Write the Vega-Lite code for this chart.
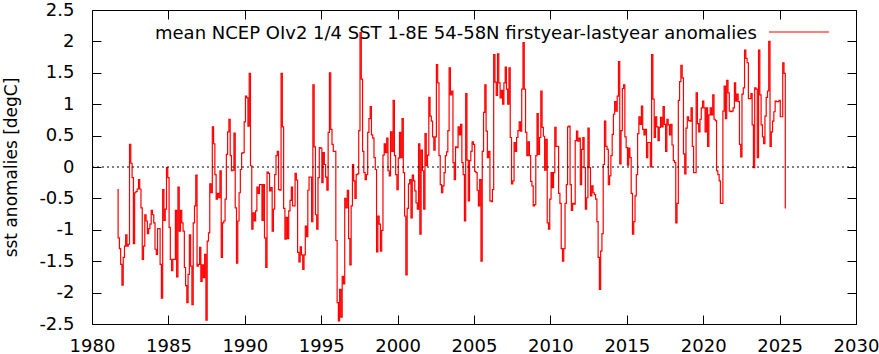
{
  "$schema": "https://vega.github.io/schema/vega-lite/v6.json",
  "width": 764,
  "height": 314,
  "autosize": {"type": "none"},
  "padding": {"left": 92, "top": 10, "right": 23, "bottom": 30},
  "background": "white",
  "config": {
    "font": "DejaVu Sans",
    "view": {"stroke": "black", "strokeWidth": 1},
    "axis": {"labelColor": "black", "tickColor": "black", "titleColor": "black", "grid": false, "domain": false, "labelFontSize": 18, "titleFontSize": 17, "titleFontWeight": "normal", "tickSize": -9, "labelFlush": false, "labelOverlap": false}
  },
  "datasets": {
    "sst": [
      {"d":"1981-09","v":-0.36},{"d":"1981-10","v":-1.13},{"d":"1981-11","v":-1.30},{"d":"1981-12","v":-1.55},
      {"d":"1982-01","v":-1.88},{"d":"1982-02","v":-1.44},{"d":"1982-03","v":-1.26},{"d":"1982-04","v":-1.08},{"d":"1982-05","v":-1.26},{"d":"1982-06","v":-1.23},{"d":"1982-07","v":0.36},{"d":"1982-08","v":0.06},{"d":"1982-09","v":-0.17},{"d":"1982-10","v":-1.22},{"d":"1982-11","v":-0.41},{"d":"1982-12","v":-0.39},
      {"d":"1983-01","v":-0.35},{"d":"1983-02","v":-0.20},{"d":"1983-03","v":-0.35},{"d":"1983-04","v":-0.65},{"d":"1983-05","v":-1.47},{"d":"1983-06","v":-1.26},{"d":"1983-07","v":-0.76},{"d":"1983-08","v":-0.86},{"d":"1983-09","v":-1.06},{"d":"1983-10","v":-0.98},{"d":"1983-11","v":-0.91},{"d":"1983-12","v":-0.69},
      {"d":"1984-01","v":-0.76},{"d":"1984-02","v":-0.89},{"d":"1984-03","v":-1.31},{"d":"1984-04","v":-1.39},{"d":"1984-05","v":-0.98},{"d":"1984-06","v":-0.98},{"d":"1984-07","v":-1.55},{"d":"1984-08","v":-2.09},{"d":"1984-09","v":-0.36},{"d":"1984-10","v":-0.85},{"d":"1984-11","v":-0.67},{"d":"1984-12","v":-0.01},
      {"d":"1985-01","v":-0.17},{"d":"1985-02","v":-0.96},{"d":"1985-03","v":-1.47},{"d":"1985-04","v":-1.65},{"d":"1985-05","v":-1.47},{"d":"1985-06","v":-1.47},{"d":"1985-07","v":-0.69},{"d":"1985-08","v":-1.75},{"d":"1985-09","v":-0.32},{"d":"1985-10","v":-1.02},{"d":"1985-11","v":-0.69},{"d":"1985-12","v":-0.89},
      {"d":"1986-01","v":-1.02},{"d":"1986-02","v":-1.60},{"d":"1986-03","v":-1.89},{"d":"1986-04","v":-2.16},{"d":"1986-05","v":-1.71},{"d":"1986-06","v":-1.08},{"d":"1986-07","v":-1.58},{"d":"1986-08","v":-2.19},{"d":"1986-09","v":-0.89},{"d":"1986-10","v":-0.62},{"d":"1986-11","v":-0.13},{"d":"1986-12","v":-1.58},
      {"d":"1987-01","v":-1.55},{"d":"1987-02","v":-1.28},{"d":"1987-03","v":-1.82},{"d":"1987-04","v":-1.56},{"d":"1987-05","v":-1.76},{"d":"1987-06","v":-1.39},{"d":"1987-07","v":-2.44},{"d":"1987-08","v":-1.18},{"d":"1987-09","v":-1.05},{"d":"1987-10","v":-0.27},{"d":"1987-11","v":-0.41},{"d":"1987-12","v":0.64},
      {"d":"1988-01","v":0.37},{"d":"1988-02","v":-0.12},{"d":"1988-03","v":-0.51},{"d":"1988-04","v":-0.42},{"d":"1988-05","v":-0.49},{"d":"1988-06","v":-0.06},{"d":"1988-07","v":-1.44},{"d":"1988-08","v":-0.89},{"d":"1988-09","v":-0.86},{"d":"1988-10","v":-0.51},{"d":"1988-11","v":0.20},{"d":"1988-12","v":0.56},
      {"d":"1989-01","v":0.76},{"d":"1989-02","v":0.18},{"d":"1989-03","v":-0.06},{"d":"1989-04","v":-0.05},{"d":"1989-05","v":0.54},{"d":"1989-06","v":-0.65},{"d":"1989-07","v":-1.53},{"d":"1989-08","v":-0.86},{"d":"1989-09","v":-0.41},{"d":"1989-10","v":-0.04},{"d":"1989-11","v":0.22},{"d":"1989-12","v":0.23},
      {"d":"1990-01","v":0.72},{"d":"1990-02","v":1.13},{"d":"1990-03","v":1.10},{"d":"1990-04","v":0.65},{"d":"1990-05","v":1.49},{"d":"1990-06","v":0.02},{"d":"1990-07","v":-0.99},{"d":"1990-08","v":-0.73},{"d":"1990-09","v":-0.86},{"d":"1990-10","v":-0.70},{"d":"1990-11","v":-0.32},{"d":"1990-12","v":-0.42},
      {"d":"1991-01","v":-0.28},{"d":"1991-02","v":-0.28},{"d":"1991-03","v":-0.85},{"d":"1991-04","v":-0.28},{"d":"1991-05","v":-1.13},{"d":"1991-06","v":-1.60},{"d":"1991-07","v":-0.08},{"d":"1991-08","v":-0.10},{"d":"1991-09","v":-0.38},{"d":"1991-10","v":-0.33},{"d":"1991-11","v":-1.02},{"d":"1991-12","v":-0.67},
      {"d":"1992-01","v":-0.12},{"d":"1992-02","v":0.18},{"d":"1992-03","v":0.25},{"d":"1992-04","v":-0.36},{"d":"1992-05","v":-0.37},{"d":"1992-06","v":1.49},{"d":"1992-07","v":0.64},{"d":"1992-08","v":-0.66},{"d":"1992-09","v":-1.15},{"d":"1992-10","v":-0.80},{"d":"1992-11","v":-1.14},{"d":"1992-12","v":-0.70},
      {"d":"1993-01","v":-0.53},{"d":"1993-02","v":-0.32},{"d":"1993-03","v":-0.62},{"d":"1993-04","v":-0.62},{"d":"1993-05","v":-0.10},{"d":"1993-06","v":-0.21},{"d":"1993-07","v":-1.36},{"d":"1993-08","v":-1.51},{"d":"1993-09","v":-1.27},{"d":"1993-10","v":-1.40},{"d":"1993-11","v":-1.63},{"d":"1993-12","v":-1.40},
      {"d":"1994-01","v":-0.94},{"d":"1994-02","v":-1.11},{"d":"1994-03","v":-0.37},{"d":"1994-04","v":-0.16},{"d":"1994-05","v":-0.16},{"d":"1994-06","v":-0.87},{"d":"1994-07","v":1.31},{"d":"1994-08","v":0.32},{"d":"1994-09","v":-0.76},{"d":"1994-10","v":-0.99},{"d":"1994-11","v":-0.17},{"d":"1994-12","v":0.31},
      {"d":"1995-01","v":0.30},{"d":"1995-02","v":-0.25},{"d":"1995-03","v":0.23},{"d":"1995-04","v":0.04},{"d":"1995-05","v":-0.16},{"d":"1995-06","v":-0.37},{"d":"1995-07","v":0.55},{"d":"1995-08","v":1.50},{"d":"1995-09","v":0.60},{"d":"1995-10","v":0.36},{"d":"1995-11","v":0.25},{"d":"1995-12","v":0.25},
      {"d":"1996-01","v":-1.17},{"d":"1996-02","v":-2.16},{"d":"1996-03","v":-2.45},{"d":"1996-04","v":-1.95},{"d":"1996-05","v":-2.39},{"d":"1996-06","v":-1.74},{"d":"1996-07","v":-1.86},{"d":"1996-08","v":-0.50},{"d":"1996-09","v":-0.65},{"d":"1996-10","v":-0.37},{"d":"1996-11","v":-1.14},{"d":"1996-12","v":-1.56},
      {"d":"1997-01","v":-0.62},{"d":"1997-02","v":0.04},{"d":"1997-03","v":-0.22},{"d":"1997-04","v":-0.50},{"d":"1997-05","v":-0.12},{"d":"1997-06","v":-0.11},{"d":"1997-07","v":0.58},{"d":"1997-08","v":2.14},{"d":"1997-09","v":1.40},{"d":"1997-10","v":0.25},{"d":"1997-11","v":-0.09},{"d":"1997-12","v":-0.20},
      {"d":"1998-01","v":-0.12},{"d":"1998-02","v":0.55},{"d":"1998-03","v":0.77},{"d":"1998-04","v":0.96},{"d":"1998-05","v":0.51},{"d":"1998-06","v":0.46},{"d":"1998-07","v":0.15},{"d":"1998-08","v":-0.04},{"d":"1998-09","v":-1.35},{"d":"1998-10","v":-0.78},{"d":"1998-11","v":-0.91},{"d":"1998-12","v":-1.34},
      {"d":"1999-01","v":-1.01},{"d":"1999-02","v":0.19},{"d":"1999-03","v":0.37},{"d":"1999-04","v":0.23},{"d":"1999-05","v":0.46},{"d":"1999-06","v":-0.06},{"d":"1999-07","v":-0.14},{"d":"1999-08","v":0.56},{"d":"1999-09","v":0.25},{"d":"1999-10","v":1.06},{"d":"1999-11","v":0.18},{"d":"1999-12","v":-0.12},
      {"d":"2000-01","v":-0.36},{"d":"2000-02","v":0.14},{"d":"2000-03","v":0.55},{"d":"2000-04","v":0.15},{"d":"2000-05","v":0.77},{"d":"2000-06","v":-0.09},{"d":"2000-07","v":-0.78},{"d":"2000-08","v":-1.72},{"d":"2000-09","v":-0.66},{"d":"2000-10","v":-0.27},{"d":"2000-11","v":-0.20},{"d":"2000-12","v":-0.81},
      {"d":"2001-01","v":-0.13},{"d":"2001-02","v":-0.22},{"d":"2001-03","v":-0.38},{"d":"2001-04","v":-0.57},{"d":"2001-05","v":-0.67},{"d":"2001-06","v":0.37},{"d":"2001-07","v":-1.07},{"d":"2001-08","v":0.27},{"d":"2001-09","v":-0.06},{"d":"2001-10","v":-0.67},{"d":"2001-11","v":0.53},{"d":"2001-12","v":0.02},
      {"d":"2002-01","v":0.19},{"d":"2002-02","v":1.11},{"d":"2002-03","v":0.81},{"d":"2002-04","v":0.73},{"d":"2002-05","v":0.48},{"d":"2002-06","v":0.27},{"d":"2002-07","v":0.48},{"d":"2002-08","v":1.63},{"d":"2002-09","v":1.34},{"d":"2002-10","v":0.18},{"d":"2002-11","v":-0.28},{"d":"2002-12","v":-0.41},
      {"d":"2003-01","v":-0.30},{"d":"2003-02","v":-0.09},{"d":"2003-03","v":0.18},{"d":"2003-04","v":0.24},{"d":"2003-05","v":0.58},{"d":"2003-06","v":1.58},{"d":"2003-07","v":1.15},{"d":"2003-08","v":1.21},{"d":"2003-09","v":0.07},{"d":"2003-10","v":-0.20},{"d":"2003-11","v":0.32},{"d":"2003-12","v":0.31},
      {"d":"2004-01","v":0.64},{"d":"2004-02","v":0.51},{"d":"2004-03","v":0.68},{"d":"2004-04","v":0.07},{"d":"2004-05","v":-0.12},{"d":"2004-06","v":-0.86},{"d":"2004-07","v":1.17},{"d":"2004-08","v":0.11},{"d":"2004-09","v":-0.54},{"d":"2004-10","v":0.10},{"d":"2004-11","v":0.25},{"d":"2004-12","v":0.40},
      {"d":"2005-01","v":0.36},{"d":"2005-02","v":-0.07},{"d":"2005-03","v":-0.09},{"d":"2005-04","v":-0.37},{"d":"2005-05","v":-0.62},{"d":"2005-06","v":-0.20},{"d":"2005-07","v":-1.50},{"d":"2005-08","v":0.25},{"d":"2005-09","v":0.87},{"d":"2005-10","v":1.31},{"d":"2005-11","v":0.57},{"d":"2005-12","v":0.15},
      {"d":"2006-01","v":0.25},{"d":"2006-02","v":-0.54},{"d":"2006-03","v":-0.55},{"d":"2006-04","v":-0.36},{"d":"2006-05","v":1.79},{"d":"2006-06","v":1.35},{"d":"2006-07","v":1.14},{"d":"2006-08","v":1.80},{"d":"2006-09","v":1.34},{"d":"2006-10","v":1.10},{"d":"2006-11","v":1.22},{"d":"2006-12","v":1.00},
      {"d":"2007-01","v":1.34},{"d":"2007-02","v":1.59},{"d":"2007-03","v":1.24},{"d":"2007-04","v":1.00},{"d":"2007-05","v":1.58},{"d":"2007-06","v":0.47},{"d":"2007-07","v":-0.27},{"d":"2007-08","v":-0.22},{"d":"2007-09","v":0.39},{"d":"2007-10","v":0.25},{"d":"2007-11","v":0.47},{"d":"2007-12","v":0.58},
      {"d":"2008-01","v":0.72},{"d":"2008-02","v":0.57},{"d":"2008-03","v":1.24},{"d":"2008-04","v":1.98},{"d":"2008-05","v":1.24},{"d":"2008-06","v":0.55},{"d":"2008-07","v":0.18},{"d":"2008-08","v":0.40},{"d":"2008-09","v":0.18},{"d":"2008-10","v":-0.23},{"d":"2008-11","v":-0.30},{"d":"2008-12","v":-0.62},
      {"d":"2009-01","v":-0.60},{"d":"2009-02","v":0.18},{"d":"2009-03","v":0.85},{"d":"2009-04","v":0.20},{"d":"2009-05","v":0.47},{"d":"2009-06","v":1.21},{"d":"2009-07","v":0.63},{"d":"2009-08","v":0.49},{"d":"2009-09","v":-0.05},{"d":"2009-10","v":0.44},{"d":"2009-11","v":-0.89},{"d":"2009-12","v":-0.99},
      {"d":"2010-01","v":-0.51},{"d":"2010-02","v":-0.09},{"d":"2010-03","v":-0.33},{"d":"2010-04","v":-0.09},{"d":"2010-05","v":0.63},{"d":"2010-06","v":0.33},{"d":"2010-07","v":0.33},{"d":"2010-08","v":-0.42},{"d":"2010-09","v":-0.58},{"d":"2010-10","v":-1.30},{"d":"2010-11","v":-1.50},{"d":"2010-12","v":-1.30},
      {"d":"2011-01","v":-0.58},{"d":"2011-02","v":-0.28},{"d":"2011-03","v":0.64},{"d":"2011-04","v":0.65},{"d":"2011-05","v":-0.28},{"d":"2011-06","v":-0.69},{"d":"2011-07","v":-0.58},{"d":"2011-08","v":-0.59},{"d":"2011-09","v":0.42},{"d":"2011-10","v":0.57},{"d":"2011-11","v":0.41},{"d":"2011-12","v":0.46},
      {"d":"2012-01","v":-0.28},{"d":"2012-02","v":0.28},{"d":"2012-03","v":0.47},{"d":"2012-04","v":-0.01},{"d":"2012-05","v":-0.67},{"d":"2012-06","v":-0.49},{"d":"2012-07","v":0.62},{"d":"2012-08","v":-0.01},{"d":"2012-09","v":-0.46},{"d":"2012-10","v":-0.30},{"d":"2012-11","v":-0.41},{"d":"2012-12","v":-0.44},
      {"d":"2013-01","v":-0.51},{"d":"2013-02","v":-0.87},{"d":"2013-03","v":-1.44},{"d":"2013-04","v":-1.95},{"d":"2013-05","v":-1.34},{"d":"2013-06","v":-1.06},{"d":"2013-07","v":0.04},{"d":"2013-08","v":0.73},{"d":"2013-09","v":0.33},{"d":"2013-10","v":0.28},{"d":"2013-11","v":-0.28},{"d":"2013-12","v":-0.14},
      {"d":"2014-01","v":0.18},{"d":"2014-02","v":0.52},{"d":"2014-03","v":0.84},{"d":"2014-04","v":1.04},{"d":"2014-05","v":0.89},{"d":"2014-06","v":1.13},{"d":"2014-07","v":1.68},{"d":"2014-08","v":0.05},{"d":"2014-09","v":0.58},{"d":"2014-10","v":1.25},{"d":"2014-11","v":1.31},{"d":"2014-12","v":0.48},
      {"d":"2015-01","v":0.31},{"d":"2015-02","v":0.03},{"d":"2015-03","v":0.30},{"d":"2015-04","v":0.15},{"d":"2015-05","v":-0.42},{"d":"2015-06","v":-1.07},{"d":"2015-07","v":-0.87},{"d":"2015-08","v":-0.46},{"d":"2015-09","v":-0.12},{"d":"2015-10","v":0.53},{"d":"2015-11","v":0.80},{"d":"2015-12","v":0.68},
      {"d":"2016-01","v":0.97},{"d":"2016-02","v":0.60},{"d":"2016-03","v":0.51},{"d":"2016-04","v":0.60},{"d":"2016-05","v":0.15},{"d":"2016-06","v":0.39},{"d":"2016-07","v":0.39},{"d":"2016-08","v":0.00},{"d":"2016-09","v":1.79},{"d":"2016-10","v":1.08},{"d":"2016-11","v":0.47},{"d":"2016-12","v":0.80},
      {"d":"2017-01","v":0.64},{"d":"2017-02","v":0.42},{"d":"2017-03","v":0.63},{"d":"2017-04","v":0.79},{"d":"2017-05","v":0.64},{"d":"2017-06","v":0.96},{"d":"2017-07","v":0.68},{"d":"2017-08","v":0.25},{"d":"2017-09","v":0.76},{"d":"2017-10","v":0.67},{"d":"2017-11","v":0.51},{"d":"2017-12","v":0.68},
      {"d":"2018-01","v":0.35},{"d":"2018-02","v":0.10},{"d":"2018-03","v":0.07},{"d":"2018-04","v":-0.89},{"d":"2018-05","v":-0.58},{"d":"2018-06","v":1.06},{"d":"2018-07","v":1.36},{"d":"2018-08","v":1.62},{"d":"2018-09","v":1.42},{"d":"2018-10","v":0.21},{"d":"2018-11","v":-0.11},{"d":"2018-12","v":0.62},
      {"d":"2019-01","v":0.80},{"d":"2019-02","v":0.74},{"d":"2019-03","v":0.73},{"d":"2019-04","v":0.94},{"d":"2019-05","v":0.33},{"d":"2019-06","v":-0.09},{"d":"2019-07","v":-0.09},{"d":"2019-08","v":1.18},{"d":"2019-09","v":0.69},{"d":"2019-10","v":0.56},{"d":"2019-11","v":0.76},{"d":"2019-12","v":0.94},
      {"d":"2020-01","v":1.05},{"d":"2020-02","v":0.94},{"d":"2020-03","v":0.56},{"d":"2020-04","v":0.94},{"d":"2020-05","v":0.33},{"d":"2020-06","v":0.83},{"d":"2020-07","v":0.94},{"d":"2020-08","v":0.83},{"d":"2020-09","v":1.15},{"d":"2020-10","v":0.76},{"d":"2020-11","v":0.74},{"d":"2020-12","v":-0.06},
      {"d":"2021-01","v":-0.12},{"d":"2021-02","v":-0.22},{"d":"2021-03","v":-0.58},{"d":"2021-04","v":-0.58},{"d":"2021-05","v":0.89},{"d":"2021-06","v":1.29},{"d":"2021-07","v":0.77},{"d":"2021-08","v":1.38},{"d":"2021-09","v":1.18},{"d":"2021-10","v":0.89},{"d":"2021-11","v":0.88},{"d":"2021-12","v":0.89},
      {"d":"2022-01","v":0.94},{"d":"2022-02","v":1.34},{"d":"2022-03","v":1.05},{"d":"2022-04","v":1.16},{"d":"2022-05","v":1.04},{"d":"2022-06","v":0.36},{"d":"2022-07","v":0.16},{"d":"2022-08","v":1.16},{"d":"2022-09","v":1.26},{"d":"2022-10","v":1.86},{"d":"2022-11","v":1.73},{"d":"2022-12","v":1.66},
      {"d":"2023-01","v":1.09},{"d":"2023-02","v":1.09},{"d":"2023-03","v":1.17},{"d":"2023-04","v":0.67},{"d":"2023-05","v":-0.01},{"d":"2023-06","v":1.26},{"d":"2023-07","v":1.24},{"d":"2023-08","v":0.15},{"d":"2023-09","v":1.86},{"d":"2023-10","v":1.15},{"d":"2023-11","v":0.67},{"d":"2023-12","v":0.48},
      {"d":"2024-01","v":0.37},{"d":"2024-02","v":0.81},{"d":"2024-03","v":1.11},{"d":"2024-04","v":1.21},{"d":"2024-05","v":2.00},{"d":"2024-06","v":0.33},{"d":"2024-07","v":0.56},{"d":"2024-08","v":0.73},{"d":"2024-09","v":0.88},{"d":"2024-10","v":1.05},{"d":"2024-11","v":1.04},{"d":"2024-12","v":1.04},
      {"d":"2025-01","v":1.06},{"d":"2025-02","v":0.80},{"d":"2025-03","v":0.80},{"d":"2025-04","v":1.66},{"d":"2025-05","v":1.49},{"d":"2025-06","v":-0.65}
    ]
  },
  "data": {"name": "sst"},
  "layer": [
    {
      "mark": {"type": "line", "strokeWidth": 1.2, "interpolate": "step"},
      "encoding": {
        "x": {
          "field": "d", "type": "temporal",
          "scale": {"type": "utc", "domain": [{"year": 1980, "utc": true}, {"year": 2030, "utc": true}]},
          "axis": {
            "orient": "bottom", "title": null, "format": "%Y", "formatType": "utc", "labelPadding": 22,
            "values": [{"year": 1980, "utc": true}, {"year": 1985, "utc": true}, {"year": 1990, "utc": true}, {"year": 1995, "utc": true}, {"year": 2000, "utc": true}, {"year": 2005, "utc": true}, {"year": 2010, "utc": true}, {"year": 2015, "utc": true}, {"year": 2020, "utc": true}, {"year": 2025, "utc": true}, {"year": 2030, "utc": true}]
          }
        },
        "y": {
          "field": "v", "type": "quantitative",
          "scale": {"domain": [-2.5, 2.5], "nice": false, "zero": false},
          "axis": {
            "orient": "left", "title": "sst anomalies [degC]", "titlePadding": 18, "labelPadding": 27,
            "values": [-2.5, -2, -1.5, -1, -0.5, 0, 0.5, 1, 1.5, 2, 2.5],
            "labelExpr": "'' + datum.value"
          }
        },
        "color": {
          "datum": "sst", "type": "nominal",
          "scale": {"range": ["#ff0000"]},
          "legend": {
            "orient": "none", "legendX": 63, "legendY": -9,
            "title": "mean NCEP OIv2 1/4 SST 1-8E 54-58N firstyear-lastyear anomalies",
            "titleOrient": "left", "titleAnchor": "end", "titleBaseline": "middle", "titleLimit": 0,
            "titleFontSize": 18, "titleFontWeight": "normal", "titleColor": "black", "titlePadding": 11,
            "symbolType": "stroke", "symbolSize": 3600, "symbolStrokeWidth": 1.2, "labelExpr": "''", "labelOffset": 0, "labelFontSize": 1
          }
        }
      }
    },
    {
      "data": {"values": [{}]},
      "mark": {"type": "rule", "color": "black", "strokeWidth": 1, "strokeDash": [2, 3]},
      "encoding": {
        "x": {
          "datum": {"year": 1980, "utc": true}, "type": "temporal",
          "axis": {
            "orient": "top", "title": null, "labels": false,
            "values": [{"year": 1980, "utc": true}, {"year": 1985, "utc": true}, {"year": 1990, "utc": true}, {"year": 1995, "utc": true}, {"year": 2000, "utc": true}, {"year": 2005, "utc": true}, {"year": 2010, "utc": true}, {"year": 2015, "utc": true}, {"year": 2020, "utc": true}, {"year": 2025, "utc": true}, {"year": 2030, "utc": true}]
          }
        },
        "x2": {"datum": {"year": 2030, "utc": true}},
        "y": {
          "datum": 0, "type": "quantitative",
          "axis": {"orient": "right", "title": null, "labels": false, "values": [-2.5, -2, -1.5, -1, -0.5, 0, 0.5, 1, 1.5, 2, 2.5]}
        }
      }
    }
  ],
  "resolve": {"axis": {"x": "independent", "y": "independent"}}
}
